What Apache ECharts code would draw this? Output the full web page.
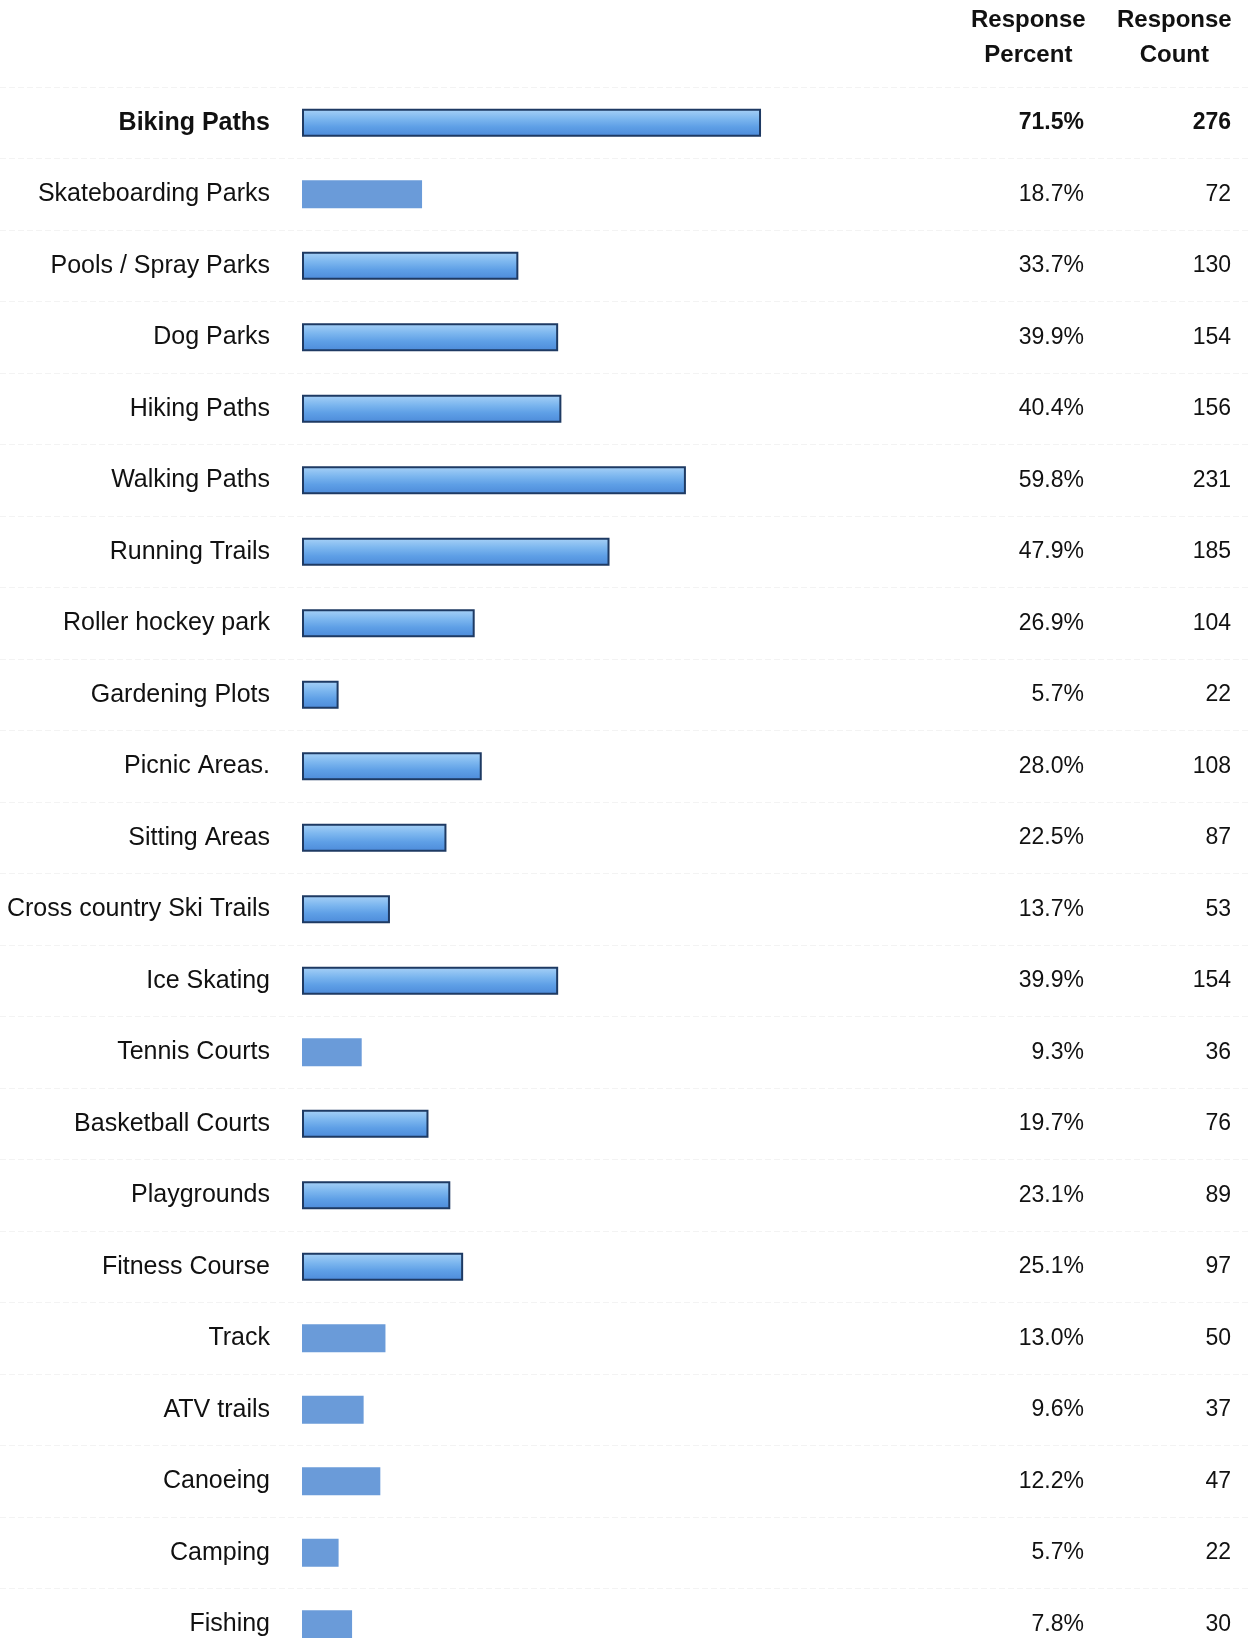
<!DOCTYPE html>
<html>
<head>
<meta charset="utf-8">
<script src="https://cdn.jsdelivr.net/npm/echarts@6/dist/echarts.min.js"></script>
<style>
html,body{margin:0;padding:0;background:#fff;overflow:hidden;}
#chart{width:1251px;height:1720px;}
</style>
</head>
<body>
<div id="chart"></div>
<script>
const categories = ["Biking Paths","Skateboarding Parks","Pools / Spray Parks","Dog Parks","Hiking Paths","Walking Paths","Running Trails","Roller hockey park","Gardening Plots","Picnic Areas.","Sitting Areas","Cross country Ski Trails","Ice Skating","Tennis Courts","Basketball Courts","Playgrounds","Fitness Course","Track","ATV trails","Canoeing","Camping","Fishing"];
const percents = [71.5,18.7,33.7,39.9,40.4,59.8,47.9,26.9,5.7,28.0,22.5,13.7,39.9,9.3,19.7,23.1,25.1,13.0,9.6,12.2,5.7,7.8];
const counts = [276,72,130,154,156,231,185,104,22,108,87,53,154,36,76,89,97,50,37,47,22,30];
const flatBars = ["Skateboarding Parks","Tennis Courts","Track","ATV trails","Canoeing","Camping","Fishing"];
const headers = [["Response","Percent"],["Response","Count"]];

const chart = echarts.init(document.getElementById('chart'));
const font = 'Liberation Sans, Arial, sans-serif';
const gradient = new echarts.graphic.LinearGradient(0,0,0,1,[
  {offset:0,color:'#a9d2f7'},
  {offset:0.35,color:'#7db7ef'},
  {offset:0.65,color:'#5e9fe6'},
  {offset:1,color:'#4c8ad9'}
]);
const barData = percents.map((v,i)=>{
  const flat = flatBars.indexOf(categories[i]) >= 0;
  return {
    value: v,
    itemStyle: flat ? {color:'#6a9bd9', borderWidth:0}
                    : {color: gradient, borderColor:'#1e3a63', borderWidth:2}
  };
});
function lbl(fmt){
  return function(val, idx){
    const s = fmt(idx);
    return idx === 0 ? '{b|' + s + '}' : '{n|' + s + '}';
  };
}
const richLabel = {
  b:{fontSize:25,fontWeight:'bold',fontFamily:font,color:'#111'},
  n:{fontSize:25,fontFamily:font,color:'#111'}
};
const richNum = {
  b:{fontSize:23,fontWeight:'bold',fontFamily:font,color:'#111'},
  n:{fontSize:23,fontFamily:font,color:'#111'}
};
const hidden = {axisLine:{show:false},axisTick:{show:false},splitLine:{show:false}};
chart.setOption({
  animation:false,
  backgroundColor:'#ffffff',
  grid:[
    {left:302, top:87, width:642, height:1573},
    {left:0, top:87, width:1251, height:1573}
  ],
  xAxis:[
    {type:'value', min:0, max:100, show:false, gridIndex:0},
    {type:'value', min:0, max:100, show:false, gridIndex:1}
  ],
  yAxis:[
    Object.assign({}, hidden, {
      type:'category', data:categories, inverse:true, gridIndex:0,
      axisLabel:{margin:32, formatter:lbl(i=>categories[i]), rich:richLabel}
    }),
    Object.assign({}, hidden, {
      type:'category', data:categories, inverse:true, position:'right', offset:140, gridIndex:0,
      axisLabel:{margin:0, align:'right', formatter:lbl(i=>percents[i].toFixed(1)+'%'), rich:richNum}
    }),
    Object.assign({}, hidden, {
      type:'category', data:categories, inverse:true, position:'right', offset:287, gridIndex:0,
      axisLabel:{margin:0, align:'right', formatter:lbl(i=>String(counts[i])), rich:richNum}
    }),
    {
      type:'category', data:categories, inverse:true, gridIndex:1,
      axisLine:{show:false}, axisTick:{show:false}, axisLabel:{show:false},
      splitLine:{show:true, lineStyle:{color:'#f3f3f3', width:1, type:[6,3]}}
    }
  ],
  graphic: headers.map((h,k)=>({
    type:'text', left: k===0 ? 971 : 1117, top: 3,
    style:{text:h.join('\n'), fontSize:24, fontWeight:'bold', fontFamily:font,
           fill:'#111', align:'center', lineHeight:35, width:113, textAlign:'center'}
  })),
  series:[{
    type:'bar', data:barData, barWidth:28, xAxisIndex:0, yAxisIndex:0,
    silent:true
  }]
});
</script>
</body>
</html>
